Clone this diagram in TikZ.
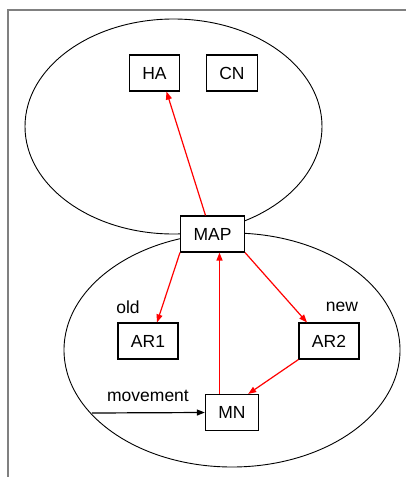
\documentclass[tikz,border=0pt]{standalone}
\usepackage{fontspec}
\setmainfont{Liberation Sans}
\usepackage{xcolor}
\usepackage{tikz}
\usetikzlibrary{positioning,arrows.meta}

\begin{document}
\begin{tikzpicture}[x=1pt,y=-1pt,line width=0.9pt,
        box/.style={draw, line width=1.1pt, fill=white, inner xsep=13pt, minimum height=36pt, font=\fontsize{17.5}{20}\selectfont},
        link/.style={draw=red, line width=1.2pt, -{Triangle[length=8pt,width=6pt,fill=red]}},
        lbl/.style={font=\fontsize{17.5}{20}\selectfont}]
                \useasboundingbox (0,0) rectangle (406,477);
                \draw[gray, line width=2pt] (8,477) -- (8,10) -- (406,10);
                % the two areas
                \draw (173.5,126.5) ellipse (148.5 and 107.5);
                \draw (232,350) ellipse (168 and 117);
                % nodes
                \node[box] (ha) at (154.5,73) {HA};
                \node[box] (cn) at (232,73) {CN};
                \node[box] (map) at (212.5,234) {MAP};
                \node[box] (ar1) at (148,341) {AR1};
                \node[box] (ar2) at (329,341) {AR2};
                \node[box] (mn) at (232,412.5) {MN};
                \node[lbl] (old) at (128,307) {old};
                \node[lbl] (new) at (342,307) {new};
                \node[lbl] (mov) at (148,396) {movement};
                \coordinate (start) at (92,413);
                % links
                \draw[link] ([xshift=-7pt]map.north) -- ([xshift=12pt]ha.south);
                \draw[link] (map.south west) -- ([xshift=9pt]ar1.north);
                \draw[link] (map.south east) -- ([xshift=-22pt]ar2.north);
                \draw[link] ([xshift=-12.5pt]mn.north) -- ([xshift=-12.5pt]mn.north |- map.south);
                \draw[link] (ar2.south west) -- ([xshift=-11pt]mn.north east);
                \draw[line width=1.2pt, -{Triangle[length=8pt,width=6pt]}] (start) -- (mn.west);
            \end{tikzpicture}
\end{document}
